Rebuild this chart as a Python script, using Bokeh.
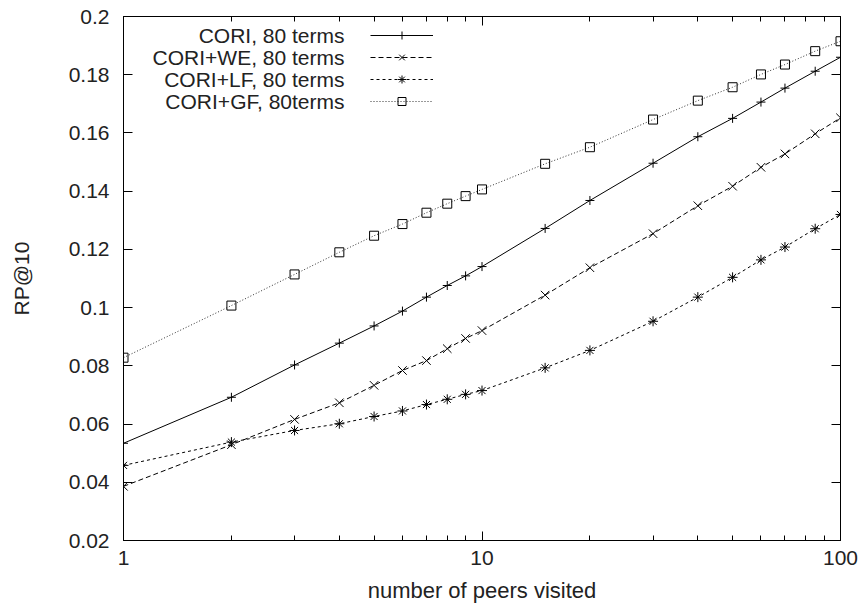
from bokeh.plotting import figure
from bokeh.models import (Range1d, FixedTicker, LinearAxis, LogAxis, Legend, LegendItem,
                          Label, CustomJSTickFormatter, ColumnDataSource)
from bokeh.embed import file_html
from bokeh.resources import INLINE

# ---- data ----
peers = [1, 2, 3, 4, 5, 6, 7, 8, 9, 10, 15, 20, 30, 40, 50, 60, 70, 85, 100]
cori = [0.0534, 0.0692, 0.0803, 0.0878, 0.0937, 0.0988, 0.1036, 0.1076, 0.1109, 0.1141,
        0.1272, 0.1368, 0.1496, 0.1587, 0.1650, 0.1706, 0.1754, 0.1812, 0.1860]
cori_we = [0.0386, 0.0529, 0.0616, 0.0673, 0.0733, 0.0784, 0.0818, 0.0859, 0.0894, 0.0921,
           0.1043, 0.1137, 0.1254, 0.1350, 0.1417, 0.1482, 0.1528, 0.1597, 0.1652]
cori_lf = [0.0458, 0.0538, 0.0578, 0.0601, 0.0626, 0.0645, 0.0667, 0.0685, 0.0702, 0.0715,
           0.0793, 0.0853, 0.0953, 0.1036, 0.1104, 0.1164, 0.1208, 0.1271, 0.1320]
cori_gf = [0.0828, 0.1007, 0.1114, 0.1190, 0.1247, 0.1287, 0.1326, 0.1357, 0.1383, 0.1406,
           0.1494, 0.1551, 0.1646, 0.1711, 0.1757, 0.1801, 0.1835, 0.1881, 0.1915]
series_names = ["CORI, 80 terms", "CORI+WE, 80 terms", "CORI+LF, 80 terms", "CORI+GF, 80terms"]
x_major = [1, 10, 100]
x_minor = [2, 3, 4, 5, 6, 7, 8, 9, 20, 30, 40, 50, 60, 70, 80, 90]
y_ticks = [0.02, 0.04, 0.06, 0.08, 0.1, 0.12, 0.14, 0.16, 0.18, 0.2]

FONT = "Liberation Sans"
FS = "21px"

p = figure(width=861, height=605, x_axis_type="log",
           x_range=Range1d(1, 100), y_range=Range1d(0.02, 0.2),
           output_backend="svg", toolbar_location=None,
           min_border_left=123, min_border_right=21, min_border_top=16, min_border_bottom=65)
p.xgrid.visible = False
p.ygrid.visible = False
p.outline_line_color = "black"
p.outline_line_width = 1
p.background_fill_color = "white"
p.border_fill_color = "white"

yfmt = CustomJSTickFormatter(code="return tick.toFixed(2).replace(/0+$/, '');")
xfmt = CustomJSTickFormatter(code="return String(Math.round(tick));")
nofmt = CustomJSTickFormatter(code="return '';")

def style_axis(ax, show_labels):
    ax.axis_line_color = "black"
    ax.major_tick_in = 9
    ax.major_tick_out = 0
    ax.minor_tick_in = 5
    ax.minor_tick_out = 0
    ax.major_tick_line_color = "black"
    ax.minor_tick_line_color = "black"
    ax.major_label_text_font = FONT
    ax.major_label_text_color = "#222222"
    ax.axis_label_text_font = FONT
    ax.axis_label_text_font_style = "normal"
    ax.axis_label_text_color = "#222222"
    ax.axis_label_text_font_size = FS
    if show_labels:
        ax.major_label_text_font_size = FS
    else:
        ax.formatter = nofmt
        ax.major_label_text_font_size = "1px"
        ax.major_label_standoff = 0

xax = p.xaxis[0]
xax.ticker = FixedTicker(ticks=x_major, minor_ticks=x_minor)
xax.formatter = xfmt
style_axis(xax, True)
xax.axis_label = "number of peers visited"
xax.axis_label_text_font_size = "22px"
xax.major_label_standoff = 10
xax.axis_label_standoff = 10

yax = p.yaxis[0]
yax.ticker = FixedTicker(ticks=y_ticks)
yax.formatter = yfmt
style_axis(yax, True)
yax.minor_tick_line_color = None
yax.axis_label = "RP@10"
yax.major_label_standoff = 14
yax.axis_label_standoff = 33

rax = LinearAxis(ticker=FixedTicker(ticks=y_ticks))
style_axis(rax, False)
rax.minor_tick_line_color = None
p.add_layout(rax, "right")

tax = LogAxis(ticker=FixedTicker(ticks=x_major, minor_ticks=x_minor))
style_axis(tax, False)
p.add_layout(tax, "above")

src = ColumnDataSource(dict(x=peers, cori=cori, we=cori_we, lf=cori_lf, gf=cori_gf))

specs = [("cori", None, "cross", "black", 9),
         ("we", "5 3", "x", "black", 12),
         ("lf", "3 3", "asterisk", "black", 10),
         ("gf", "1 2", "square", "#333333", 9)]
items = []
for (col, dash, marker, color, msize) in specs:
    kw = {} if dash is None else {"line_dash": dash}
    l = p.line("x", col, source=src, line_color=color, line_width=1, **kw)
    s = p.scatter("x", col, source=src, marker=marker, size=msize, line_color="black",
                  fill_color=None, line_width=1)
    items.append(LegendItem(label="", renderers=[l, s]))

leg = Legend(items=items, location=(247, 429), orientation="vertical",
             glyph_width=63, glyph_height=20, label_height=20, label_width=0,
             label_text_font_size="1px", spacing=2, padding=0, margin=0,
             border_line_alpha=0, background_fill_alpha=0, label_standoff=0)
p.add_layout(leg, "center")

row_pitch = 22
first_row_y = 505
for i, name in enumerate(series_names):
    p.add_layout(Label(x=221, y=first_row_y - i * row_pitch, x_units="screen", y_units="screen",
                       text=name, text_align="right", text_baseline="middle",
                       text_font=FONT, text_font_size=FS, text_color="#222222"))

open("out.html", "w").write(file_html(p, INLINE))
